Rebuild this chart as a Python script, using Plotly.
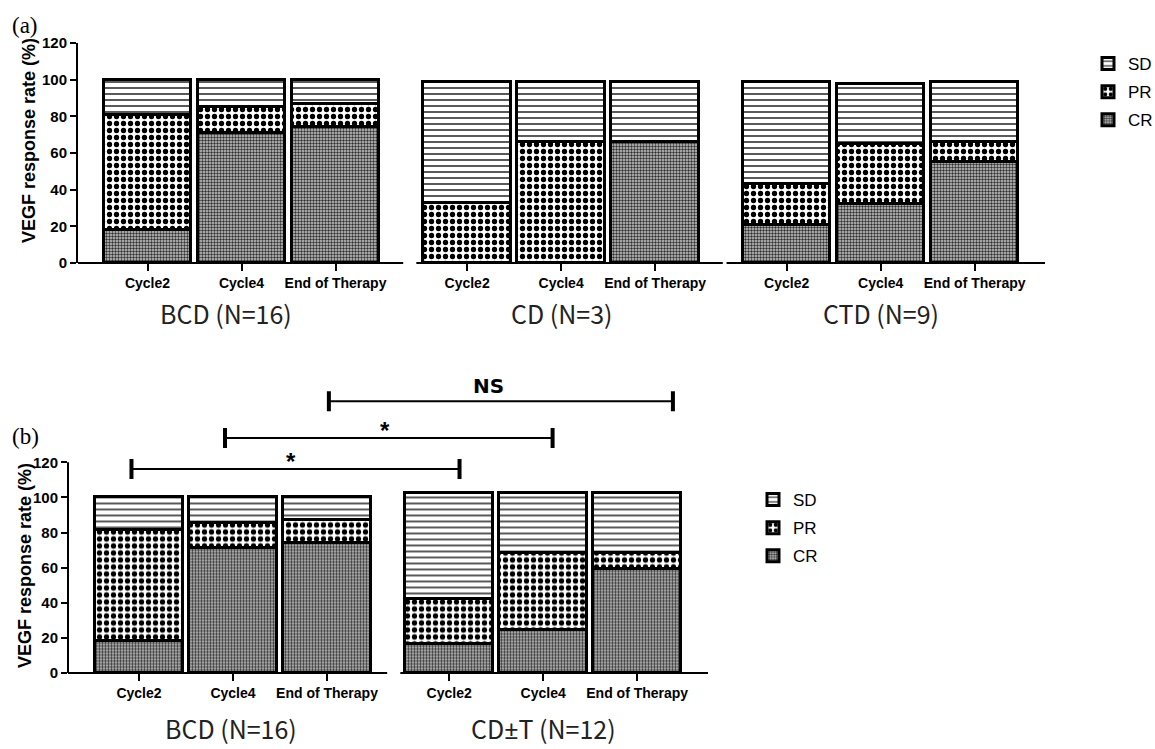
import plotly.graph_objects as go

# ---------------- data ----------------
categories = ["Cycle2", "Cycle4", "End of Therapy"]
groups_a = ["BCD (N=16)", "CD (N=3)", "CTD (N=9)"]
groups_b = ["BCD (N=16)", "CD±T (N=12)"]

# panel (a): order BCD(3), CD(3), CTD(3)
cr_a = [18, 71, 74, 0, 0, 66, 21, 32, 55]
pr_a = [63, 14, 13, 33, 66, 0, 22, 33, 11]
sd_a = [19, 15, 13, 65.5, 32.5, 32.5, 55.5, 32.5, 33]

# panel (b): order BCD(3), CD±T(3)
cr_b = [18, 71, 74, 16, 24, 59]
pr_b = [63, 14, 13, 26, 44, 9]
sd_b = [19, 15, 13, 60.5, 34.5, 34.5]

y_ticks = [0, 20, 40, 60, 80, 100, 120]
y_title = "VEGF response rate (%)"
sig_labels = ["*", "*", "NS"]

# ---------------- layout helpers ----------------
GAP_A = 3.4
GAP_B = 3.3
x_a = [g * GAP_A + i for g in range(len(groups_a)) for i in range(len(categories))]
x_b = [g * GAP_B + i for g in range(len(groups_b)) for i in range(len(categories))]

BOLD = "Liberation Sans"
BAR_W = 0.93

styles = {
    "SD": dict(shape="-", fgcolor="#3a3a3a", bgcolor="white", size=6, solidity=0.28),
    "PR": dict(shape=".", fgcolor="black", bgcolor="white", size=7, solidity=0.45),
    "CR": dict(shape=".", fgcolor="#303030", bgcolor="#cacaca", size=3, solidity=0.5),
}
ranks = {"SD": 1, "PR": 2, "CR": 3}

fig = go.Figure()


def add_panel(xs, cr, pr, sd, xa, ya, legend):
    for name, vals in (("CR", cr), ("PR", pr), ("SD", sd)):
        fig.add_trace(go.Bar(
            x=xs, y=vals, name=name, xaxis=xa, yaxis=ya, width=BAR_W,
            legend=legend, legendgroup=name + legend, legendrank=ranks[name],
            showlegend=True,
            marker=dict(color="white", pattern=styles[name],
                        line=dict(color="black", width=3)),
            hoverinfo="skip",
        ))


add_panel(x_a, cr_a, pr_a, sd_a, "x", "y", "legend")
add_panel(x_b, cr_b, pr_b, sd_b, "x2", "y2", "legend2")

W, H = 1155, 749

# panel (a) geometry (pixels)
a_left, a_right, a_y0, a_ytop = 78, 1045, 263, 43
a_unit = 94.0
a_x0px = 147.5
a_range = [(a_left - a_x0px) / a_unit, (a_right - a_x0px) / a_unit]

# panel (b) geometry
b_left, b_right, b_y0 = 68, 708, 673
b_ppu = 1.756
b_ymax = 170
b_unit = 94.0
b_x0px = 139.0
b_range = [(b_left - b_x0px) / b_unit, (b_right - b_x0px) / b_unit]

tickfont = dict(family=BOLD, size=15, color="black", weight="bold")
xtickfont = dict(family=BOLD, size=14, color="black", weight="bold")
titlefont = dict(family=BOLD, size=18, color="black", weight="bold")
legfont = dict(family="Liberation Sans", size=17, color="black")

fig.update_layout(
    template="none",
    width=W, height=H,
    margin=dict(l=0, r=0, t=0, b=0, autoexpand=False),
    paper_bgcolor="white", plot_bgcolor="white",
    barmode="stack", bargap=0,
    showlegend=True,
    xaxis=dict(domain=[a_left / W, a_right / W], range=a_range, automargin=False,
               tickvals=x_a, ticktext=categories * len(groups_a),
               showline=False, showgrid=False, zeroline=False,
               ticks="outside", ticklen=7, tickwidth=2, tickcolor="black",
               tickfont=xtickfont, anchor="y"),
    yaxis=dict(domain=[1 - a_y0 / H, 1 - a_ytop / H], range=[0, 120], automargin=False,
               tickvals=y_ticks, showline=True, linewidth=2, linecolor="black",
               showgrid=False, zeroline=False,
               ticks="outside", ticklen=6, tickwidth=2, tickcolor="black",
               tickfont=tickfont, anchor="x"),
    xaxis2=dict(domain=[b_left / W, b_right / W], range=b_range, automargin=False,
                tickvals=x_b, ticktext=categories * len(groups_b),
                showline=False, showgrid=False, zeroline=False,
                ticks="outside", ticklen=7, tickwidth=2, tickcolor="black",
                tickfont=xtickfont, anchor="y2"),
    yaxis2=dict(domain=[1 - b_y0 / H, 1 - (b_y0 - b_ymax * b_ppu) / H], range=[0, b_ymax],
                automargin=False,
                tickvals=y_ticks, showline=False, showgrid=False, zeroline=False,
                ticks="outside", ticklen=6, tickwidth=2, tickcolor="black",
                tickfont=tickfont, anchor="x2"),
    legend=dict(x=1088 / W, y=1 - 46 / H, xanchor="left", yanchor="top",
                traceorder="grouped", tracegroupgap=3,
                font=legfont, bgcolor="rgba(0,0,0,0)"),
    legend2=dict(x=753 / W, y=1 - 482 / H, xanchor="left", yanchor="top",
                 traceorder="grouped", tracegroupgap=3,
                 font=legfont, bgcolor="rgba(0,0,0,0)"),
)

shapes = []
# panel (a) broken x axis segments
for x0, x1 in ((a_range[0] - 0.05, 2.72), (2.86, 6.12), (6.16, a_range[1])):
    shapes.append(dict(type="line", xref="x", yref="y domain", x0=x0, x1=x1, y0=0, y1=0,
                       line=dict(color="black", width=2)))
# panel (b) x axis segments
for x0, x1 in ((b_range[0], 2.64), (2.78, b_range[1])):
    shapes.append(dict(type="line", xref="x2", yref="y2 domain", x0=x0, x1=x1, y0=0, y1=0,
                       line=dict(color="black", width=2)))
# panel (b) y axis line up to 120
shapes.append(dict(type="line", xref="x2 domain", yref="y2", x0=0, x1=0, y0=0, y1=120,
                   line=dict(color="black", width=2)))

# significance brackets (panel b)
brackets = [
    (-0.08, 3.41, 116.2),
    (0.915, 4.40, 133.8),
    (2.02, 5.68, 154.7),
]
cap = 5.7
for x0, x1, yy in brackets:
    shapes.append(dict(type="line", xref="x2", yref="y2", x0=x0, x1=x1, y0=yy, y1=yy,
                       line=dict(color="black", width=2)))
    for xc in (x0, x1):
        shapes.append(dict(type="line", xref="x2", yref="y2", x0=xc, x1=xc,
                           y0=yy - cap, y1=yy + cap, line=dict(color="black", width=4)))
fig.update_layout(shapes=shapes)


def fmt_group(label):
    # render the plus-minus sign with a proportional font
    return label.replace("±", "<span style='font-family:Noto Sans'>±</span>")


ann = []
# y-axis titles
ann.append(dict(x=29 / W, y=1 - 141 / H, xref="paper", yref="paper", text=y_title,
                textangle=-90, showarrow=False, xanchor="center", yanchor="middle",
                font=titlefont))
ann.append(dict(x=25 / W, y=1 - 566 / H, xref="paper", yref="paper", text=y_title,
                textangle=-90, showarrow=False, xanchor="center", yanchor="middle",
                font=titlefont))
# group labels
glab_font = dict(family="Noto Sans CJK SC", size=25, color="#222")
group_x_a = [0.84, 4.4, 7.8]
for gx, lab in zip(group_x_a, groups_a):
    ann.append(dict(x=gx, y=1 - 313 / H, xref="x", yref="paper", text=fmt_group(lab),
                    showarrow=False, yanchor="middle", font=glab_font))
group_x_b = [0.98, 4.3]
for gx, lab in zip(group_x_b, groups_b):
    ann.append(dict(x=gx, y=1 - 728 / H, xref="x2", yref="paper", text=fmt_group(lab),
                    showarrow=False, yanchor="middle", font=glab_font))
# panel letters
ann.append(dict(x=10 / W, y=1 - 26 / H, xref="paper", yref="paper", text="(a)", showarrow=False,
                xanchor="left", yanchor="middle",
                font=dict(family="Liberation Serif", size=23, color="black")))
ann.append(dict(x=10 / W, y=1 - 436 / H, xref="paper", yref="paper", text="(b)", showarrow=False,
                xanchor="left", yanchor="middle",
                font=dict(family="Liberation Serif", size=23, color="black")))
# significance labels
sig_pos = [(1.62, 116.2), (2.62, 133.8), (3.72, 154.7)]
for (sx, sy), lab in zip(sig_pos, sig_labels):
    if lab == "NS":
        ann.append(dict(x=sx, y=sy, xref="x2", yref="y2", text=lab, showarrow=False,
                        yanchor="bottom", yshift=1,
                        font=dict(family="DejaVu Sans", size=20, color="black", weight="bold")))
    else:
        ann.append(dict(x=sx, y=sy, xref="x2", yref="y2", text=lab, showarrow=False,
                        yanchor="bottom", yshift=-8,
                        font=dict(family=BOLD, size=24, color="black", weight="bold")))
fig.update_layout(annotations=ann)

fig.write_html("out.html")
